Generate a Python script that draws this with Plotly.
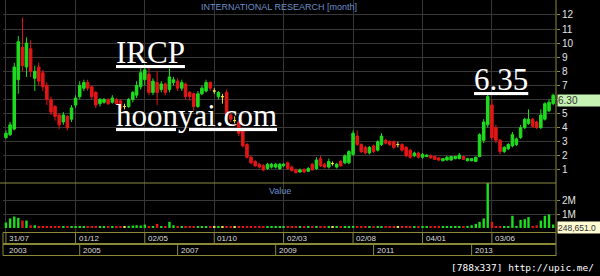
import pandas as pd
import plotly.graph_objects as go

# ---------------- data ----------------
months = pd.date_range("2003-07-01", periods=135, freq="MS")

opens = [3.3, 3.5, 3.9, 7.4, 9.7, 8.3, 9.6, 7.5, 8.3, 7.9,
         7.0, 6.0, 5.5, 4.9, 4.4, 4.8, 4.6, 5.6, 6.2, 6.8,
         7.2, 6.9, 6.5, 5.7, 5.8, 6.0, 5.8, 6.0, 5.9, 5.5,
         5.5, 6.0, 6.3, 6.9, 7.4, 7.8, 6.5, 7.2, 6.7, 7.1,
         6.7, 7.2, 7.3, 6.8, 7.1, 6.5, 6.4, 5.5, 6.4, 6.6,
         7.2, 6.6, 6.2, 6.2, 6.5, 4.9, 4.5, 4.4, 3.8, 2.8,
         1.9, 1.6, 1.4, 1.3, 1.1, 1.2, 1.2, 1.1, 1.3, 1.5,
         1.2, 1.0, 0.85, 1.05, 0.9, 1.4, 1.1, 1.8, 1.4, 1.2,
         1.45, 1.2, 1.6, 1.5, 1.5, 2.1, 3.4, 2.8, 2.6, 2.2,
         2.7, 2.4, 2.8, 3.1, 3.0, 3.0, 2.8, 2.8, 2.6, 2.4,
         2.0, 2.2, 1.9, 1.95, 2.0, 1.95, 1.85, 1.65, 1.7, 1.7,
         1.8, 1.8, 1.95, 1.65, 1.65, 1.6, 1.95, 3.1, 4.2, 5.6,
         4.0, 3.1, 2.3, 2.5, 2.7, 2.8, 3.3, 4.0, 4.3, 4.6,
         4.4, 4.0, 4.6, 5.2, 5.7]
highs = [3.8, 4.4, 8.6, 10.5, 11.8, 10.4, 10.2, 8.4, 8.6, 8.1,
         7.2, 6.2, 5.6, 5.0, 5.1, 4.9, 5.6, 6.3, 7.3, 7.4,
         7.4, 7.0, 6.6, 6.1, 6.1, 6.1, 6.3, 6.1, 6.0, 5.7,
         6.1, 6.6, 7.3, 8.2, 8.5, 8.3, 7.5, 8.0, 7.3, 7.2,
         8.2, 7.6, 7.5, 7.4, 7.2, 6.6, 6.5, 6.6, 7.0, 7.4,
         7.3, 6.8, 6.6, 6.4, 6.7, 5.0, 4.8, 4.5, 4.0, 2.9,
         2.0, 1.7, 1.5, 1.4, 1.5, 1.5, 1.5, 1.5, 1.5, 1.6,
         1.3, 1.1, 1.1, 1.1, 1.2, 1.5, 1.9, 2.0, 1.5, 1.8,
         1.6, 1.5, 1.7, 2.1, 2.4, 3.8, 3.8, 2.9, 2.7, 2.7,
         2.8, 3.1, 3.6, 3.2, 3.1, 3.1, 3.0, 2.9, 2.7, 2.5,
         2.3, 2.3, 2.2, 2.1, 2.1, 2.0, 1.9, 1.85, 2.0, 2.0,
         2.0, 2.2, 2.0, 1.85, 1.85, 1.95, 3.6, 4.6, 6.35, 6.0,
         4.2, 3.2, 2.7, 2.9, 3.7, 3.3, 4.2, 4.7, 5.3, 4.7,
         4.5, 5.3, 5.8, 6.0, 6.4]
lows = [3.2, 3.4, 3.8, 6.4, 8.0, 7.6, 7.6, 6.6, 7.0, 6.6,
        5.6, 4.9, 4.5, 3.9, 4.2, 3.8, 4.4, 5.4, 6.0, 6.6,
        6.6, 6.0, 5.4, 5.5, 5.7, 5.6, 5.7, 5.6, 5.3, 5.3,
        5.4, 5.8, 6.1, 6.7, 7.0, 6.3, 6.3, 5.6, 6.5, 6.3,
        6.5, 7.0, 6.6, 6.6, 6.0, 5.9, 5.2, 5.4, 6.3, 6.5,
        6.6, 6.4, 6.0, 5.7, 4.7, 4.4, 4.3, 3.4, 2.6, 1.8,
        1.4, 1.2, 1.1, 0.9, 1.0, 1.1, 1.1, 1.0, 1.2, 1.0,
        0.9, 0.75, 0.8, 0.8, 0.85, 0.95, 1.0, 1.2, 1.1, 1.1,
        1.3, 1.1, 1.2, 1.4, 1.4, 2.0, 2.7, 2.2, 2.1, 2.1,
        2.2, 2.3, 2.7, 2.8, 2.7, 2.5, 2.6, 2.3, 1.9, 1.8,
        1.9, 1.8, 1.8, 1.9, 1.8, 1.7, 1.6, 1.6, 1.65, 1.65,
        1.75, 1.75, 1.7, 1.6, 1.6, 1.55, 1.9, 2.9, 4.0, 3.1,
        2.9, 2.1, 2.2, 2.4, 2.6, 2.7, 3.2, 3.9, 4.2, 4.0,
        3.9, 3.9, 4.5, 5.1, 5.6]
closes = [3.6, 4.2, 8.3, 10.1, 8.4, 10.0, 8.0, 8.0, 7.3, 6.9,
          6.0, 5.1, 4.8, 4.2, 4.9, 4.0, 5.4, 6.1, 7.0, 7.2,
          6.8, 6.2, 5.6, 6.0, 6.0, 5.7, 6.1, 5.7, 5.4, 5.5,
          6.0, 6.5, 7.0, 7.9, 8.1, 6.5, 7.3, 6.5, 7.1, 6.5,
          7.6, 7.4, 6.8, 7.2, 6.2, 6.2, 5.5, 6.4, 6.8, 7.2,
          6.8, 6.6, 6.5, 6.2, 4.9, 4.6, 4.5, 3.6, 2.7, 1.9,
          1.5, 1.3, 1.2, 1.0, 1.4, 1.4, 1.4, 1.4, 1.4, 1.1,
          0.95, 0.8, 1.0, 0.85, 1.1, 1.0, 1.7, 1.3, 1.2, 1.6,
          1.45, 1.4, 1.3, 2.0, 2.3, 3.6, 2.8, 2.3, 2.2, 2.6,
          2.3, 3.0, 3.4, 2.9, 2.8, 2.6, 2.8, 2.4, 2.0, 1.9,
          2.2, 1.9, 2.1, 2.05, 1.85, 1.75, 1.7, 1.8, 1.9, 1.95,
          1.95, 2.05, 1.75, 1.8, 1.8, 1.9, 3.5, 4.4, 6.2, 3.3,
          3.1, 2.3, 2.6, 2.8, 3.5, 3.2, 4.0, 4.6, 4.6, 4.1,
          4.0, 4.9, 5.7, 5.8, 6.3]
volumes_m = [0.40, 0.70, 0.85, 0.75, 0.55, 0.55, 0.20, 0.20, 0.12, 0.12,
             0.12, 0.10, 0.10, 0.12, 0.10, 0.12, 0.10, 0.12, 0.12, 0.10,
             0.10, 0.12, 0.12, 0.10, 0.10, 0.12, 0.12, 0.10, 0.12, 0.10,
             0.15, 0.18, 0.20, 0.18, 0.25, 0.12, 0.10, 0.30, 0.12, 0.10,
             0.45, 0.20, 0.12, 0.10, 0.12, 0.10, 0.12, 0.10, 0.10, 0.12,
             0.10, 0.10, 0.12, 0.10, 0.12, 0.10, 0.10, 0.12, 0.10, 0.12,
             0.10, 0.10, 0.12, 0.10, 0.10, 0.12, 0.10, 0.10, 0.12, 0.10,
             0.10, 0.12, 0.10, 0.10, 0.12, 0.10, 0.12, 0.10, 0.10, 0.12,
             0.10, 0.10, 0.12, 0.10, 0.12, 0.15, 0.12, 0.10, 0.10, 0.12,
             0.10, 0.12, 0.10, 0.10, 0.12, 0.10, 0.10, 0.12, 0.10, 0.12,
             0.10, 0.10, 0.12, 0.10, 0.10, 0.12, 0.10, 0.10, 0.12, 0.10,
             0.10, 0.12, 0.10, 0.15, 0.20, 0.30, 0.45, 0.70, 3.60, 0.45,
             0.12, 0.10, 0.10, 0.15, 0.90, 0.15, 0.60, 0.65, 0.80, 0.15,
             0.20, 0.55, 0.90, 1.00, 0.248651]

month_label_dates = ["2003-07-01", "2004-12-01", "2006-05-01", "2007-10-01",
                     "2009-03-01", "2010-08-01", "2012-01-01", "2013-06-01"]
month_labels = ["31/07", "01/12", "02/05", "01/10", "02/03", "02/08", "04/01", "03/06"]
year_label_dates = ["2003-07-01", "2005-01-01", "2007-01-01", "2009-01-01",
                    "2011-01-01", "2013-01-01"]
year_labels = ["2003", "2005", "2007", "2009", "2011", "2013"]
price_ticks = [1, 2, 3, 4, 5, 6, 7, 8, 9, 10, 11, 12]
price_tick_labels = ["1", "2", "3", "4", "5", "", "7", "8", "9", "10", "11", "12"]
volume_ticks = [1, 2]
volume_tick_labels = ["1M", "2M"]
title_text = "INTERNATIONAL RESEARCH [month]"
last_close_text = "6.30"
last_volume_text = "248,651.0"
peak_text = "6.35"

# ---------------- style ----------------
W, H = 600, 276
GREEN = "#1edc1e"
RED = "#e41616"
YELLOW = "#e6e63c"
OLIVE = "#8c8a3a"
GRID = "#383838"
LABEL = "#e4e4e4"
BLUE = "#6c8fc8"

def px_x(px):
    return px / W

def px_y(py):
    return 1 - py / H

X0, X1 = 3, 556
PRICE_BOTTOM = 183
VOL_BOTTOM = 232

is_doji = [o == c for o, c in zip(opens, closes)]
def pick(vals, keep):
    return [v if k else None for v, k in zip(vals, keep)]
not_doji = [not d for d in is_doji]

fig = go.Figure()
fig.add_trace(go.Candlestick(
    x=months, open=pick(opens, not_doji), high=pick(highs, not_doji),
    low=pick(lows, not_doji), close=pick(closes, not_doji),
    increasing=dict(line=dict(color=GREEN, width=1), fillcolor=GREEN),
    decreasing=dict(line=dict(color=RED, width=1), fillcolor=RED),
    whiskerwidth=0, xaxis="x", yaxis="y", hoverinfo="skip"))
fig.add_trace(go.Candlestick(
    x=months, open=pick(opens, is_doji), high=pick(highs, is_doji),
    low=pick(lows, is_doji), close=pick(closes, is_doji),
    increasing=dict(line=dict(color=YELLOW, width=1), fillcolor=YELLOW),
    decreasing=dict(line=dict(color=YELLOW, width=1), fillcolor=YELLOW),
    whiskerwidth=0, xaxis="x", yaxis="y", hoverinfo="skip"))

vol_colors = [GREEN if c > o else (RED if c < o else YELLOW) for o, c in zip(opens, closes)]
fig.add_trace(go.Bar(x=months, y=volumes_m, marker=dict(color=vol_colors, line=dict(width=0)),
                     width=18 * 86400000, xaxis="x2", yaxis="y2", hoverinfo="skip"))

xrange = ["2003-06-09", "2014-09-22"]
common_x = dict(type="date", range=xrange, domain=[px_x(X0), px_x(X1)],
                tickvals=month_label_dates, showticklabels=False, ticks="",
                showgrid=True, gridcolor=GRID, gridwidth=1, zeroline=False, showline=False)

fig.update_layout(
    width=W, height=H, margin=dict(l=0, r=0, t=0, b=0),
    paper_bgcolor="black", plot_bgcolor="black", showlegend=False,
    boxmode="overlay", boxgap=0.25, boxgroupgap=0.1,
    xaxis=dict(**common_x, anchor="y", rangeslider=dict(visible=False)),
    xaxis2=dict(**common_x, anchor="y2", matches="x"),
    yaxis=dict(domain=[px_y(PRICE_BOTTOM), 1], range=[0.07, 13.06], side="right",
               tickvals=price_ticks, ticktext=price_tick_labels,
               tickfont=dict(family="Arial, Liberation Sans", size=10, color=LABEL),
               ticks="outside", ticklen=3, tickcolor=OLIVE,
               showgrid=True, gridcolor=GRID, zeroline=False, showline=False, anchor="x"),
    yaxis2=dict(domain=[px_y(VOL_BOTTOM), px_y(PRICE_BOTTOM)], range=[-0.3, 3.33], side="right",
                tickvals=volume_ticks, ticktext=volume_tick_labels,
                tickfont=dict(family="Arial, Liberation Sans", size=10, color=LABEL),
                ticks="outside", ticklen=3, tickcolor=OLIVE,
                showgrid=True, gridcolor=GRID, zeroline=False, showline=False, anchor="x2"),
)

shapes = []
ln = dict(color=OLIVE, width=1)
# panel divider and right axis line
shapes.append(dict(type="line", xref="paper", yref="paper", x0=0, x1=px_x(X1),
                   y0=px_y(PRICE_BOTTOM), y1=px_y(PRICE_BOTTOM), line=ln))
shapes.append(dict(type="line", xref="paper", yref="paper", x0=px_x(X1), x1=px_x(X1),
                   y0=1, y1=px_y(256), line=ln))
# date label rows
for yy in [232.5, 243.5, 244.5, 255.5]:
    shapes.append(dict(type="line", xref="paper", yref="paper", x0=px_x(X0), x1=px_x(X1),
                       y0=px_y(yy), y1=px_y(yy), line=ln))
shapes.append(dict(type="line", xref="paper", yref="paper", x0=px_x(X0), x1=px_x(X0),
                   y0=px_y(232.5), y1=px_y(255.5), line=ln))
for d in month_label_dates:
    shapes.append(dict(type="line", xref="x", yref="paper", x0=d, x1=d,
                       y0=px_y(232.5), y1=px_y(243.5), line=ln))
for d in year_label_dates[1:]:
    shapes.append(dict(type="line", xref="x", yref="paper", x0=d, x1=d,
                       y0=px_y(244.5), y1=px_y(255.5), line=ln))
fig.update_layout(shapes=shapes)

ann = []
small = dict(family="Arial, Liberation Sans", size=8, color="#dcdcdc")
for d, t in zip(month_label_dates, month_labels):
    ann.append(dict(x=d, xref="x", y=px_y(238), yref="paper", text=t, showarrow=False,
                    xanchor="left", yanchor="middle", xshift=2, font=small, borderpad=0))
for d, t in zip(year_label_dates, year_labels):
    ann.append(dict(x=d, xref="x", y=px_y(250), yref="paper", text=t, showarrow=False,
                    xanchor="left", yanchor="middle", xshift=2, font=small, borderpad=0))
ann.append(dict(x=px_x(279), y=px_y(7), xref="paper", yref="paper", text=title_text,
                showarrow=False, xanchor="center", yanchor="middle",
                font=dict(family="Arial, Liberation Sans", size=9, color=BLUE), borderpad=0))
ann.append(dict(x=px_x(268), y=px_y(190.5), xref="paper", yref="paper", text="Value",
                showarrow=False, xanchor="left", yanchor="middle",
                font=dict(family="Arial, Liberation Sans", size=9, color=BLUE), borderpad=0))
big = dict(family="Liberation Serif, Times New Roman, serif", size=31, color="white")
ann.append(dict(x=px_x(115), y=px_y(52.5), xref="paper", yref="paper", text="<u>IRCP</u>",
                showarrow=False, xanchor="left", yanchor="middle", font=big, borderpad=0))
ann.append(dict(x=px_x(115), y=px_y(115.5), xref="paper", yref="paper", text="<u>hoonyai.com</u>",
                showarrow=False, xanchor="left", yanchor="middle", font=big, borderpad=0))
ann.append(dict(x=px_x(473), y=px_y(80), xref="paper", yref="paper", text="<u>" + peak_text + "</u>",
                showarrow=False, xanchor="left", yanchor="middle", font=big, borderpad=0))
# last value boxes
ann.append(dict(x=px_x(557), y=closes[-1], xref="paper", yref="y", yshift=-5,
                text=last_close_text, showarrow=False, xanchor="left", yanchor="middle",
                align="left", width=43, height=11, bgcolor="#c6f2b4",
                font=dict(family="Arial, Liberation Sans", size=10, color="#303030"), borderpad=0))
ann.append(dict(x=px_x(557), y=volumes_m[-1], xref="paper", yref="y2", yshift=-3,
                text=last_volume_text, showarrow=False, xanchor="left", yanchor="middle",
                align="left", width=42, height=11, bgcolor="#fffbd2",
                font=dict(family="Arial, Liberation Sans", size=8.5, color="#303030"), borderpad=0))
ann.append(dict(x=px_x(595), y=px_y(267), xref="paper", yref="paper",
                text="[788x337] http://upic.me/", showarrow=False, xanchor="right", yanchor="middle",
                font=dict(family="DejaVu Sans Mono, monospace", size=9.5, color="white"), borderpad=0))
fig.update_layout(annotations=ann)

fig.write_html("out.html")
